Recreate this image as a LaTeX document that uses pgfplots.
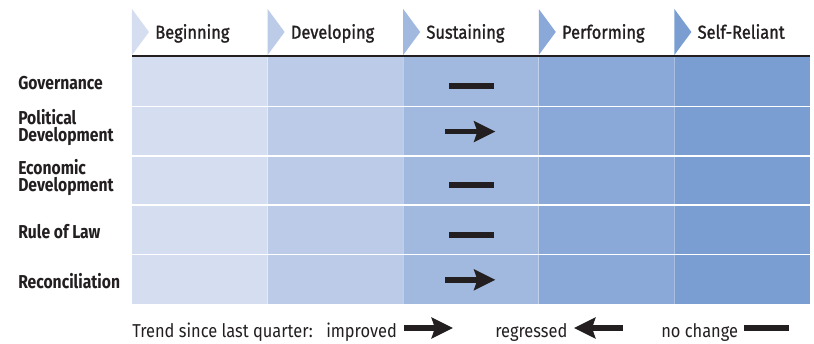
\documentclass[border=0pt]{standalone}
\usepackage{pgfplots}
\pgfplotsset{compat=1.18}
\usepackage{fontspec}
\setmainfont{Fira Sans}[FakeStretch=0.88]
\newfontfamily\medfont{Fira Sans}[FakeStretch=0.88, FakeBold=1.3]
\newfontfamily\semifont{Fira Sans}[FakeStretch=0.84]
\usetikzlibrary{arrows.meta}
\definecolor{cA}{HTML}{D5DEF1}
\definecolor{cB}{HTML}{BBCBE8}
\definecolor{cC}{HTML}{A2B9DF}
\definecolor{cD}{HTML}{8AA9D8}
\definecolor{cE}{HTML}{7A9ED2}
\definecolor{ink}{HTML}{231F20}
\tikzset{trendarrow/.style={-{Stealth[length=16pt,width=15.5pt,inset=2.5pt]}}}
\begin{document}
\begin{tikzpicture}
\useasboundingbox (-99pt,228pt) rectangle (511.5pt,-29.25pt);
\begin{axis}[at={(0,0)}, anchor=south west, scale only axis,
  width=508.5pt, height=185.25pt,
  xmin=0, xmax=5, ymin=0, ymax=5, y dir=reverse, hide axis, clip=false]
% stage columns
\addplot[fill=cA, draw=none] coordinates {(0,0) (1,0) (1,5) (0,5)} -- cycle;
\addplot[fill=cB, draw=none] coordinates {(1,0) (2,0) (2,5) (1,5)} -- cycle;
\addplot[fill=cC, draw=none] coordinates {(2,0) (3,0) (3,5) (2,5)} -- cycle;
\addplot[fill=cD, draw=none] coordinates {(3,0) (4,0) (4,5) (3,5)} -- cycle;
\addplot[fill=cE, draw=none] coordinates {(4,0) (5,0) (5,5) (4,5)} -- cycle;
% faint column separators
\addplot[white, opacity=0.35, line width=0.75pt] coordinates {(1,0) (1,5)};
\addplot[white, opacity=0.35, line width=0.75pt] coordinates {(2,0) (2,5)};
\addplot[white, opacity=0.35, line width=0.75pt] coordinates {(3,0) (3,5)};
\addplot[white, opacity=0.35, line width=0.75pt] coordinates {(4,0) (4,5)};
% row separators
\addplot[white, line width=1.1pt] coordinates {(0,1) (5,1)};
\addplot[white, line width=1.1pt] coordinates {(0,2) (5,2)};
\addplot[white, line width=1.1pt] coordinates {(0,3) (5,3)};
\addplot[white, line width=1.1pt] coordinates {(0,4) (5,4)};
% no change (Governance, Economic Development, Rule of Law)
\addplot[ink, line width=4.5pt, quiver={u=\thisrow{u}, v=0}] table {
x y u
2.338 0.58 0.332
2.338 2.60 0.332
2.338 3.60 0.332
};
% improved (Political Development, Reconciliation)
\addplot[ink, line width=4.2pt, trendarrow, quiver={u=\thisrow{u}, v=0}] table {
x y u
2.31 1.51 0.37
2.31 4.51 0.37
};
\end{axis}
\begin{scope}[shift={(-99pt,228pt)}, x=0.75pt, y=-0.75pt, every node/.style={inner sep=0pt, text=ink, font=\fontsize{14}{16}\selectfont}]
\fill[ink] (132,55) rectangle (810,57.5);
\fill[cA] (132,9) -- (149,32) -- (132,55) -- cycle;
\fill[cB] (267.6,9) -- (284.6,32) -- (267.6,55) -- cycle;
\fill[cC] (403.2,9) -- (420.2,32) -- (403.2,55) -- cycle;
\fill[cD] (538.8,9) -- (555.8,32) -- (538.8,55) -- cycle;
\fill[cE] (674.4,9) -- (691.4,32) -- (674.4,55) -- cycle;
\node[anchor=base west] at (155,38.7) {\medfont Beginning};
\node[anchor=base west] at (290.6,38.7) {\medfont Developing};
\node[anchor=base west] at (426.2,38.7) {\medfont Sustaining};
\node[anchor=base west] at (561.8,38.7) {\medfont Performing};
\node[anchor=base west] at (697.4,38.7) {\medfont Self-Reliant};
\node[anchor=base west] at (18,89.3) {\semifont\bfseries Governance};
\node[anchor=base west] at (18,124.3) {\semifont\bfseries Political};
\node[anchor=base west] at (18,141.7) {\semifont\bfseries Development};
\node[anchor=base west] at (18,174.3) {\semifont\bfseries Economic};
\node[anchor=base west] at (18,191.7) {\semifont\bfseries Development};
\node[anchor=base west] at (18,239) {\semifont\bfseries Rule of Law};
\node[anchor=base west] at (18,288.3) {\semifont\bfseries Reconciliation};
\node[anchor=base west] at (132,337) {Trend since last quarter:};
\node[anchor=base west] at (326,337) {improved};
\draw[ink, line width=4.2pt, trendarrow] (404,328) -- (453,328);
\node[anchor=base west] at (495,337) {regressed};
\draw[ink, line width=4.2pt, trendarrow] (623,328) -- (574,328);
\node[anchor=base west] at (661,337) {no change};
\draw[ink, line width=4.5pt] (744,327.5) -- (789,327.5);
\end{scope}
\end{tikzpicture}
\end{document}
